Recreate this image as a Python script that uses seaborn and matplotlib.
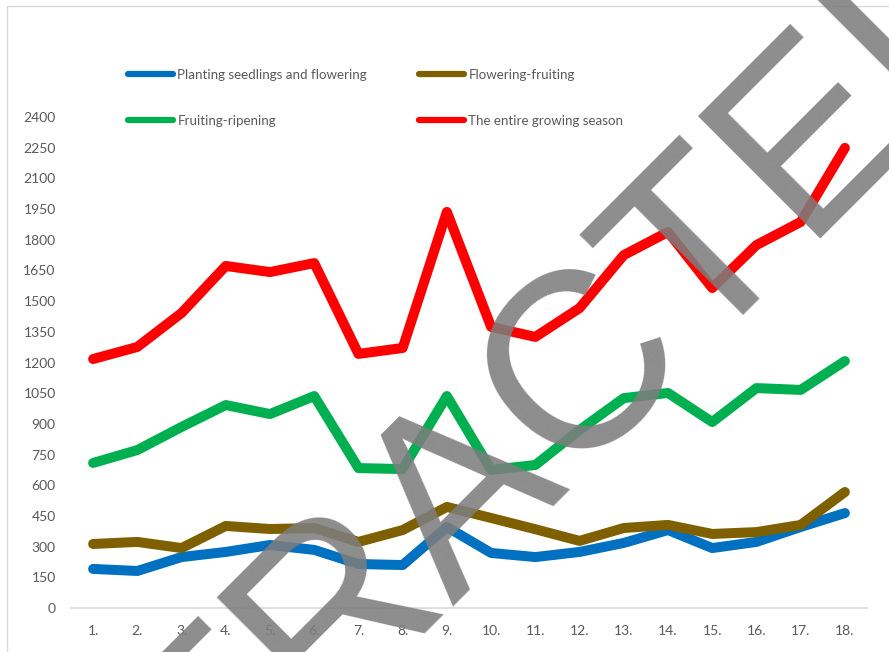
import matplotlib
matplotlib.use("Agg")
import numpy as np
import pandas as pd
import matplotlib.pyplot as plt
import seaborn as sns
from matplotlib.lines import Line2D
from matplotlib.patches import Rectangle

stages = ["1.", "2.", "3.", "4.", "5.", "6.", "7.", "8.", "9.",
          "10.", "11.", "12.", "13.", "14.", "15.", "16.", "17.", "18."]

planting = [191, 181, 249, 274, 308, 284, 215, 210, 396,
            269, 249, 274, 318, 381, 293, 323, 396, 464]
flowering = [313, 323, 293, 401, 386, 391, 323, 381, 494,
             440, 385, 328, 391, 406, 362, 371, 406, 567]
ripening = [709, 772, 885, 992, 948, 1036, 684, 679, 1036,
            675, 699, 870, 1026, 1051, 909, 1075, 1066, 1207]
season = [1217, 1276, 1442, 1672, 1642, 1686, 1242, 1271, 1936,
          1374, 1325, 1466, 1725, 1838, 1564, 1774, 1887, 2249]

names = ["Planting seedlings and flowering", "Flowering-fruiting",
         "Fruiting-ripening", "The entire growing season"]
colors = ["#0070C0", "#7F6000", "#00B050", "#FF0000"]

def frac(px, total):
    return px / total

if __name__ == "__main__":
    sns.set_style("white")
    plt.rcParams["font.family"] = ["Lato", "DejaVu Sans"]

    df = pd.DataFrame({
        "stage": stages * 4,
        "value": planting + flowering + ripening + season,
        "series": [n for n in names for _ in stages],
    })

    fig = plt.figure(figsize=(8.89, 6.52), dpi=100)
    ax = fig.add_axes([frac(71, 889), frac(44, 652), frac(796, 889), frac(491, 652)])

    sns.lineplot(data=df, x="stage", y="value", hue="series", hue_order=names,
                 palette=colors, linewidth=7.2, sort=False, legend=False,
                 solid_capstyle="round", solid_joinstyle="round", ax=ax)

    ax.set_xlim(-0.5, len(stages) - 0.5)
    ax.set_ylim(0, 2400)
    ax.set_yticks(np.arange(0, 2401, 150))
    ax.set_xlabel("")
    ax.set_ylabel("")
    for s in ["left", "top", "right"]:
        ax.spines[s].set_visible(False)
    ax.spines["bottom"].set_color("#d9d9d9")
    ax.spines["bottom"].set_linewidth(1.2)
    ax.tick_params(axis="both", length=0, labelsize=10, colors="#595959")
    ax.tick_params(axis="y", pad=11)
    ax.tick_params(axis="x", pad=12)

    # legend: two columns, filled column-wise
    order = [0, 2, 1, 3]
    handles = [Line2D([], [], color=colors[i], lw=4.5, solid_capstyle="round") for i in order]
    labels = [names[i] for i in order]
    fig.legend(handles, labels, ncol=2, loc="upper left",
               bbox_to_anchor=(frac(128, 889), 1 - frac(69, 652)),
               frameon=False, fontsize=9.6, labelcolor="#595959",
               handlelength=3.4, handletextpad=0.3, labelspacing=2.55,
               columnspacing=3.9, borderpad=0, borderaxespad=0)

    # chart border (left and top edges visible)
    fig.add_artist(Rectangle((frac(7, 889), -0.5), 2, 0.5 + 1 - frac(6, 652),
                             fill=False, edgecolor="#d9d9d9", lw=1,
                             transform=fig.transFigure))

    # watermark
    fig.text(frac(460, 889), 1 - frac(486, 652), "RETRACTED", rotation=45,
             rotation_mode="anchor", ha="center", va="center", fontsize=180,
             family="Liberation Sans", color="#7d7d7d", alpha=0.88, zorder=10)

    fig.savefig("out.png", dpi=100)
    plt.close()
